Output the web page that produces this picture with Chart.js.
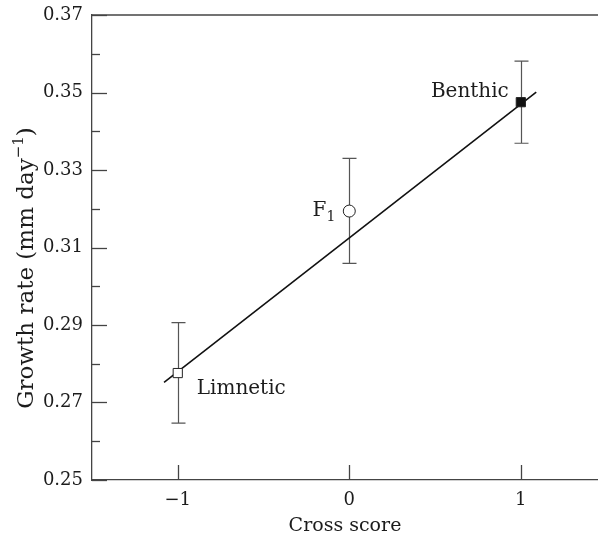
<!DOCTYPE html>
<html>
<head>
<meta charset="utf-8">
<script src="https://cdn.jsdelivr.net/npm/chart.js@4"></script>
<style>
html,body{margin:0;padding:0;background:#fff;}
#wrap{width:598px;height:540px;}
</style>
</head>
<body>
<div id="wrap"><canvas id="c" width="598" height="540"></canvas></div>
<script>
// data
const groups=['Limnetic','F1','Benthic'];
const crossScore=[-1,0,1];
const growth=[0.2776,0.3194,0.3475];
const errLow=[0.2647,0.3059,0.3369];
const errHigh=[0.2906,0.3330,0.3581];
const fitX=[-1.08,1.09];
const fitY=[0.2752,0.3501];
const xTicks=[-1,0,1];
const yTicks=[0.25,0.27,0.29,0.31,0.33,0.35,0.37];
const yMinor=[0.26,0.28,0.30,0.32,0.34,0.36];

const ink='#1c1c1c', axisCol='#444';
const serif='"DejaVu Serif", "Liberation Serif", serif';

// error bars, inward ticks, top frame, labels and axis titles
const extras={
  id:'extras',
  beforeDatasetsDraw(chart){
    const {ctx,chartArea:a,scales:{x,y}}=chart;
    ctx.save();
    ctx.strokeStyle=axisCol; ctx.lineWidth=1.3;
    // top frame line
    ctx.beginPath(); ctx.moveTo(a.left,a.top); ctx.lineTo(a.right,a.top); ctx.stroke();
    // y ticks pointing in
    yTicks.forEach(v=>{const p=Math.round(y.getPixelForValue(v))+.5;ctx.beginPath();ctx.moveTo(a.left,p);ctx.lineTo(a.left+15,p);ctx.stroke();});
    yMinor.forEach(v=>{const p=Math.round(y.getPixelForValue(v))+.5;ctx.beginPath();ctx.moveTo(a.left,p);ctx.lineTo(a.left+8,p);ctx.stroke();});
    // x ticks pointing up
    xTicks.forEach(v=>{const p=Math.round(x.getPixelForValue(v))+.5;ctx.beginPath();ctx.moveTo(p,a.bottom);ctx.lineTo(p,a.bottom-15);ctx.stroke();});
    // error bars
    ctx.strokeStyle='#555'; ctx.lineWidth=1.2;
    crossScore.forEach((cx,i)=>{
      const px=Math.round(x.getPixelForValue(cx))+.5;
      const lo=y.getPixelForValue(errLow[i]), hi=y.getPixelForValue(errHigh[i]);
      ctx.beginPath();
      ctx.moveTo(px,lo);ctx.lineTo(px,hi);
      ctx.moveTo(px-7,lo);ctx.lineTo(px+7,lo);
      ctx.moveTo(px-7,hi);ctx.lineTo(px+7,hi);
      ctx.stroke();
    });
    ctx.restore();
  },
  afterDraw(chart){
    const {ctx,chartArea:a,scales:{x,y}}=chart;
    ctx.save();
    ctx.fillStyle=ink; ctx.textBaseline='middle';
    ctx.font='20px '+serif;
    // point labels
    const pt=i=>[x.getPixelForValue(crossScore[i]),y.getPixelForValue(growth[i])];
    let [lx,ly]=pt(0);
    ctx.textAlign='left'; ctx.fillText('Limnetic',lx+19,ly+16);
    [lx,ly]=pt(2);
    ctx.textAlign='right'; ctx.fillText('Benthic',lx-12,ly-10);
    [lx,ly]=pt(1);
    ctx.textAlign='right';
    ctx.font='14px '+serif; ctx.fillText('1',lx-14,ly+6);
    const w1=ctx.measureText('1').width;
    ctx.font='20px '+serif; ctx.fillText('F',lx-14-w1,ly);
    // x title
    ctx.textAlign='center'; ctx.font='19px '+serif;
    ctx.fillText('Cross score',(a.left+a.right)/2,526);
    // y title with superscript
    ctx.textBaseline='alphabetic';
    ctx.translate(33,268); ctx.rotate(-Math.PI/2);
    const s1='Growth rate (mm day', s2='\u22121', s3=')';
    ctx.font='23px '+serif; const w1a=ctx.measureText(s1).width, w3=ctx.measureText(s3).width;
    ctx.font='15px '+serif; const w2=ctx.measureText(s2).width;
    let sx=-(w1a+w2+w3)/2;
    ctx.textAlign='left';
    ctx.font='23px '+serif; ctx.fillText(s1,sx,0);
    ctx.font='15px '+serif; ctx.fillText(s2,sx+w1a,-10);
    ctx.font='23px '+serif; ctx.fillText(s3,sx+w1a+w2,0);
    ctx.restore();
  }
};

new Chart(document.getElementById('c'),{
  type:'scatter',
  data:{datasets:[
    {type:'line',data:fitX.map((v,i)=>({x:v,y:fitY[i]})),borderColor:'#111',borderWidth:1.6,pointRadius:0,fill:false,order:2},
    {data:crossScore.map((v,i)=>({x:v,y:growth[i]})),
     pointStyle:['rect','circle','rect'],
     pointRadius:[6.5,6,6.5],
     backgroundColor:['#fff','#fff','#111'],
     borderColor:'#222',borderWidth:1,order:1}
  ]},
  options:{
    responsive:false,animation:false,
    layout:{autoPadding:false,padding:{top:15,right:0,left:0,bottom:0}},
    plugins:{legend:{display:false},tooltip:{enabled:false}},
    scales:{
      x:{type:'linear',min:-1.5,max:1.45,
        grid:{display:false,drawTicks:false},
        border:{display:true,color:axisCol,width:1.3},
        afterBuildTicks:s=>{s.ticks=xTicks.map(v=>({value:v}));},
        afterFit:s=>{s.height=60;s.paddingLeft=0;s.paddingRight=0;},
        ticks:{padding:10,color:ink,font:{family:serif,size:18},
          callback:v=>v<0?'\u2212'+Math.abs(v):String(v)}},
      y:{min:0.25,max:0.37,
        grid:{display:false,drawTicks:false},
        border:{display:true,color:axisCol,width:1.3},
        afterBuildTicks:s=>{s.ticks=yTicks.map(v=>({value:v}));},
        afterFit:s=>{s.width=92;s.paddingTop=0;s.paddingBottom=0;},
        ticks:{padding:9,color:ink,font:{family:serif,size:18},
          callback:v=>Number(v).toFixed(2)}}
    }
  },
  plugins:[extras]
});
</script>
</body>
</html>
